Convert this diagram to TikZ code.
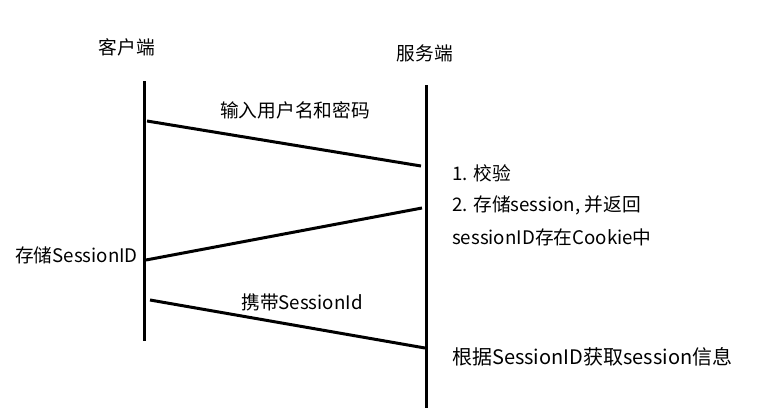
\documentclass[tikz,border=0pt]{standalone}
\usepackage{fontspec}
\setmainfont{Noto Sans CJK SC}
\begin{document}
\begin{tikzpicture}[x=1pt,y=-1pt,
  life/.style={line width=3pt},
  msg/.style={line width=3pt},
  lbl/.style={inner sep=0pt,font=\fontsize{18.7}{22}\selectfont},
  lbll/.style={lbl,anchor=west}]
\useasboundingbox (0,0) rectangle (782,418);
% lifelines
\coordinate (ctop) at (144,81);
\coordinate (cbot) at (144,341);
\coordinate (stop) at (426,85);
\coordinate (sbot) at (426,408);
\draw[life] (ctop) -- (cbot);
\draw[life] (stop) -- (sbot);
% headers
\node[lbl] (client) at (127,47) {客户端};
\node[lbl] (server) at (425,53) {服务端};
% message endpoints
\coordinate (m1a) at (147,121);
\coordinate (m1b) at (421,166);
\coordinate (m2a) at (422,208);
\coordinate (m2b) at (146,260);
\coordinate (m3a) at (150,300);
\coordinate (m3b) at (425,348);
\draw[msg] (m1a) -- (m1b);
\draw[msg] (m2a) -- (m2b);
\draw[msg] (m3a) -- (m3b);
% labels
\node[lbl] (t1) at (295,110) {输入用户名和密码};
\node[lbll] (t2) at (452,173) {1. 校验};
\node[lbll] (t3) at (452,205) {2. 存储session, 并返回};
\node[lbll] (t4) at (452,237) {sessionID存在Cookie中};
\node[lbl,anchor=east] (t5) at (138,255) {存储SessionID};
\node[lbl] (t6) at (302,302) {携带SessionId};
\node[lbll,font=\fontsize{20}{24}\selectfont] (t7) at (452,357) {根据SessionID获取session信息};
\end{tikzpicture}
\end{document}
